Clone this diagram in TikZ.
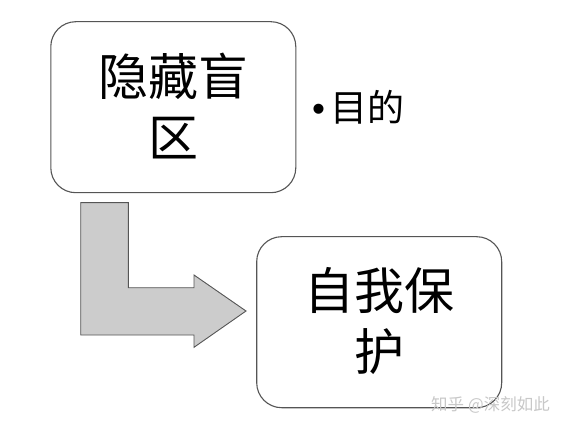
\documentclass[tikz,border=0pt]{standalone}
\usepackage{fontspec}
\newfontfamily\cjk{Noto Sans CJK SC}
\newfontfamily\sym{Liberation Sans}
\definecolor{edge}{HTML}{555555}
\definecolor{arrowfill}{HTML}{CCCCCC}
\definecolor{wm}{HTML}{C8C8C8}
\begin{document}
\begin{tikzpicture}[x=1pt,y=-1pt,
  box/.style={draw=edge,line width=1.1pt,rounded corners=25pt,fill=white,inner sep=0pt,
    minimum width=245pt,minimum height=171pt},
  bigtext/.style={font=\cjk\fontsize{50}{61}\selectfont,align=center,inner sep=0pt},
  bent/.style={draw=edge,line width=0.9pt,fill=arrowfill,line join=miter}]
\useasboundingbox[fill=white] (0,0) rectangle (567,430);
% boxes
\node[box] (hide) at (173.3,107.2) {};
\node[box] (self) at (379.2,322.2) {};
\node[bigtext] (hidetext) at (173.3,106.5) {隐藏盲\\区};
\node[bigtext] (selftext) at (379.2,321) {自我保\\护};
% bullet item
\node[font=\cjk\fontsize{37}{42}\selectfont,anchor=west,inner sep=0pt] (goal) at (312,107.5) {{\sym •}\hspace{5pt}目的};
% bent arrow
\coordinate (a1) at (80.7,202.7);
\coordinate (a2) at (128.3,202.7);
\coordinate (a3) at (128.3,287.7);
\coordinate (a4) at (194,287.7);
\coordinate (a5) at (194,275);
\coordinate (a6) at (246,311);
\coordinate (a7) at (194,347.3);
\coordinate (a8) at (194,335);
\coordinate (a9) at (80.7,335);
\draw[bent] (a1) -- (a2) -- (a3) -- (a4) -- (a5) -- (a6) -- (a7) -- (a8) -- (a9) -- cycle;
% watermark
\node[font=\cjk\fontsize{16.5}{18}\selectfont,text=wm,anchor=west,inner sep=0pt] (mark) at (431,405) {知乎\hspace{4pt}@深刻如此};
\end{tikzpicture}
\end{document}
